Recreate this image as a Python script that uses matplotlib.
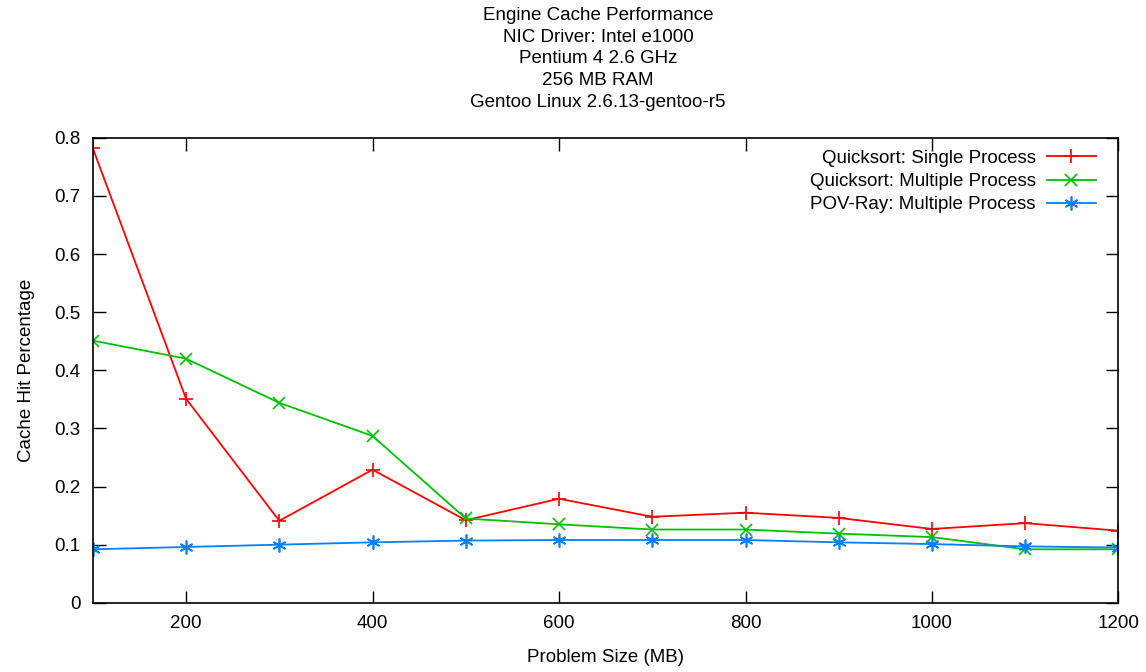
import numpy as np
import matplotlib.pyplot as plt

plt.rcParams['font.family'] = ['Liberation Sans', 'DejaVu Sans']

sizes = [100, 200, 300, 400, 500, 600, 700, 800, 900, 1000, 1100, 1200]
qs_single = [0.782, 0.351, 0.141, 0.229, 0.142, 0.179, 0.148, 0.155, 0.146, 0.127, 0.137, 0.124]
qs_multi = [0.451, 0.420, 0.344, 0.287, 0.145, 0.135, 0.126, 0.126, 0.119, 0.113, 0.092, 0.092]
pov_multi = [0.092, 0.096, 0.100, 0.104, 0.107, 0.108, 0.108, 0.108, 0.104, 0.101, 0.097, 0.095]

xticks = [200, 400, 600, 800, 1000, 1200]
yticks = [0, 0.1, 0.2, 0.3, 0.4, 0.5, 0.6, 0.7, 0.8]
ytick_labels = ['0', '0.1', '0.2', '0.3', '0.4', '0.5', '0.6', '0.7', '0.8']

fs = 13.5

fig = plt.figure(figsize=(11.46, 6.72), dpi=100)
ax = fig.add_axes([0.081, 0.103, 0.895, 0.692])

ax.plot(sizes, qs_single, color='#ff0000', marker='+', ms=10, mew=1.2, lw=1.3,
        label='Quicksort: Single Process')
ax.plot(sizes, qs_multi, color='#00c000', marker='x', ms=8, mew=1.2, lw=1.3,
        label='Quicksort: Multiple Process')
ax.plot(sizes, pov_multi, color='#0080ff', marker=(6, 2, 0), ms=10, mew=1.2, lw=1.3,
        label='POV-Ray: Multiple Process')

ax.set_xlim(100, 1200)
ax.set_ylim(0, 0.8)
ax.set_xticks(xticks)
ax.set_yticks(yticks)
ax.set_yticklabels(ytick_labels)
ax.tick_params(direction='in', top=True, right=True, length=9, width=1,
               labelsize=fs, pad=9)
for s in ax.spines.values():
    s.set_linewidth(1.2)

ax.set_xlabel('Problem Size (MB)', fontsize=fs, labelpad=12)
ax.set_ylabel('Cache Hit Percentage', fontsize=fs, labelpad=14)

fig.text(0.522, 0.99, 'Engine Cache Performance\nNIC Driver: Intel e1000\nPentium 4 2.6 GHz\n256 MB RAM\nGentoo Linux 2.6.13-gentoo-r5',
         ha='center', va='top', fontsize=fs, linespacing=1.37)

ax.legend(loc='upper right', frameon=False, markerfirst=False, fontsize=fs,
          handlelength=2.6, labelspacing=0.32, borderaxespad=0.0, handletextpad=0.6,
          bbox_to_anchor=(0.985, 0.99))

fig.savefig('out.png', dpi=100)
